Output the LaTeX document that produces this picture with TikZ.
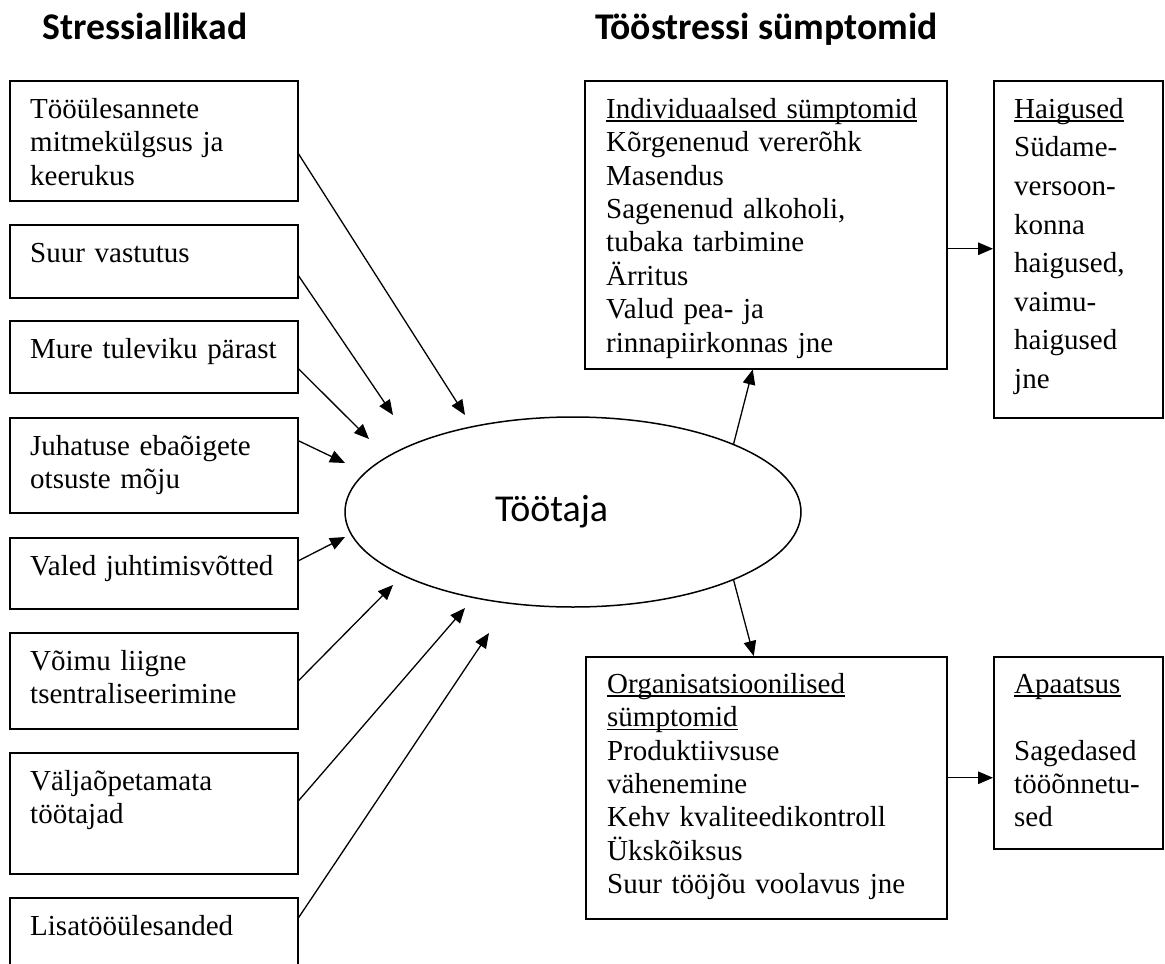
\documentclass[tikz,border=0pt]{standalone}
\usepackage{fontspec}
\setmainfont{Liberation Serif}
\newfontfamily\headfont{Carlito}
\usetikzlibrary{arrows.meta,shapes.geometric}

% body text: single spacing and a looser variant
\newcommand\bodyfont{\fontsize{29}{33.4}\selectfont}
\newcommand\loosefont{\fontsize{29}{38.6}\selectfont}
% fixed height of the first line, so that the node top gives the first baseline
\newcommand\firstline{\leavevmode\rule{0pt}{22pt}}
% underline drawn close to the baseline
\newcommand\undl[1]{\leavevmode\setbox0\hbox{#1}\rlap{\rule[-3.5pt]{\wd0}{1.4pt}}\box0}

\begin{document}
\begin{tikzpicture}[x=1pt,y=-1pt,
  box/.style={draw, line width=1.5pt, rectangle, anchor=north west, inner sep=0pt},
  txt/.style={anchor=north west, inner sep=0pt, text width=#1, align=left, font=\bodyfont},
  head/.style={anchor=base west, inner sep=0pt, font=\headfont\bfseries\fontsize{37.7}{42}\selectfont},
  arr/.style={draw, line width=1.3pt, -{Triangle[length=15pt,width=12.5pt]}}
]
\useasboundingbox (0,0) rectangle (1165,964);
\clip (0,0) rectangle (1165,964);

% column headings
\node[head] (h1) at (42,39) {Stressiallikad};
\node[head] (h2) at (595,39) {Tööstressi sümptomid};

% stress sources
\node[box, minimum width=288pt, minimum height=120pt] (b1) at (9,80) {};
\node[box, minimum width=288pt, minimum height=73pt]  (b2) at (9,224) {};
\node[box, minimum width=288pt, minimum height=72pt]  (b3) at (9,320) {};
\node[box, minimum width=288pt, minimum height=95pt]  (b4) at (9,417) {};
\node[box, minimum width=288pt, minimum height=71pt]  (b5) at (9,537) {};
\node[box, minimum width=288pt, minimum height=96pt]  (b6) at (9,632) {};
\node[box, minimum width=288pt, minimum height=121pt] (b7) at (9,752) {};
\node[box, minimum width=288pt, minimum height=110pt] (b8) at (9,897) {};

\node[txt=262pt] (b1t) at (30,96)  {\firstline Tööülesannete\\ mitmekülgsus ja\\ keerukus};
\node[txt=262pt] (b2t) at (30,240) {\firstline Suur vastutus};
\node[txt=262pt] (b3t) at (30,336) {\firstline Mure tuleviku pärast};
\node[txt=262pt] (b4t) at (30,433) {\firstline Juhatuse ebaõigete\\ otsuste mõju};
\node[txt=262pt] (b5t) at (30,553) {\firstline Valed juhtimisvõtted};
\node[txt=262pt] (b6t) at (30,648) {\firstline Võimu liigne\\ tsentraliseerimine};
\node[txt=262pt] (b7t) at (30,768) {\firstline Väljaõpetamata\\ töötajad};
\node[txt=262pt] (b8t) at (30,913) {\firstline Lisatööülesanded};

% the employee
\node[ellipse, draw, line width=1.5pt, minimum width=456pt, minimum height=190pt, inner sep=0pt] (emp) at (573,512) {};
\node[anchor=base west, inner sep=0pt, font=\headfont\fontsize{38}{42}\selectfont] (empt) at (495,521) {Töötaja};

% symptom boxes
\node[box, minimum width=362pt, minimum height=288pt] (ind) at (584,80) {};
\node[box, minimum width=169pt, minimum height=337pt] (hai) at (993,80) {};
\node[box, minimum width=361pt, minimum height=262pt] (org) at (585,656) {};
\node[box, minimum width=169pt, minimum height=192pt] (apa) at (993,656) {};

\node[txt=335pt] (indt) at (606,96) {\firstline\undl{Individuaalsed sümptomid}\\
  Kõrgenenud vererõhk\\ Masendus\\ Sagenenud alkoholi,\\ tubaka tarbimine\\
  Ärritus\\ Valud pea- ja\\ rinnapiirkonnas jne};
\node[txt=145pt, font=\loosefont] (hait) at (1014,96) {\firstline\undl{Haigused}\\
  Südame-\\ versoon-\\ konna\\ haigused,\\ vaimu-\\ haigused\\ jne};
\node[txt=335pt] (orgt) at (607,671) {\firstline\undl{Organisatsioonilised}\\
  \undl{sümptomid}\\ Produktiivsuse\\ vähenemine\\ Kehv kvaliteedikontroll\\
  Ükskõiksus\\ Suur tööjõu voolavus jne};
\node[txt=145pt] (apat) at (1014,671) {\firstline\undl{Apaatsus}\\[33.4pt]
  Sagedased\\ tööõnnetu-\\ sed};

% arrow ends near the ellipse
\coordinate (t1) at (465,415);
\coordinate (t2) at (393,415);
\coordinate (t3) at (369,439);
\coordinate (t4) at (345,463);
\coordinate (t5) at (345,537);
\coordinate (t6) at (393,585);
\coordinate (t7) at (465,608);
\coordinate (t8) at (489,633);

\draw[arr] ([yshift=-13pt]b1.east) -- (t1);
\draw[arr] ([yshift=-14.5pt]b2.east) -- (t2);
\draw[arr] ([yshift=-12pt]b3.east) -- (t3);
\draw[arr] ([yshift=24.5pt]b4.east) -- (t4);
\draw[arr] ([yshift=12.5pt]b5.east) -- (t5);
\draw[arr] (b6.east) -- (t6);
\draw[arr] ([yshift=12.5pt]b7.east) -- (t7);
\draw[arr] ([yshift=35pt]b8.east) -- (t8);

% consequences
\draw[arr] (emp.23) -- ([xshift=-13pt]ind.south);
\draw[arr] (emp.-23) -- ([xshift=-12.5pt]org.north);
\draw[arr] ([yshift=-24pt]ind.east) -- ([yshift=-24pt]ind.east -| hai.west);
\draw[arr] ([yshift=10pt]org.east) -- ([yshift=10pt]org.east -| apa.west);
\end{tikzpicture}
\end{document}
